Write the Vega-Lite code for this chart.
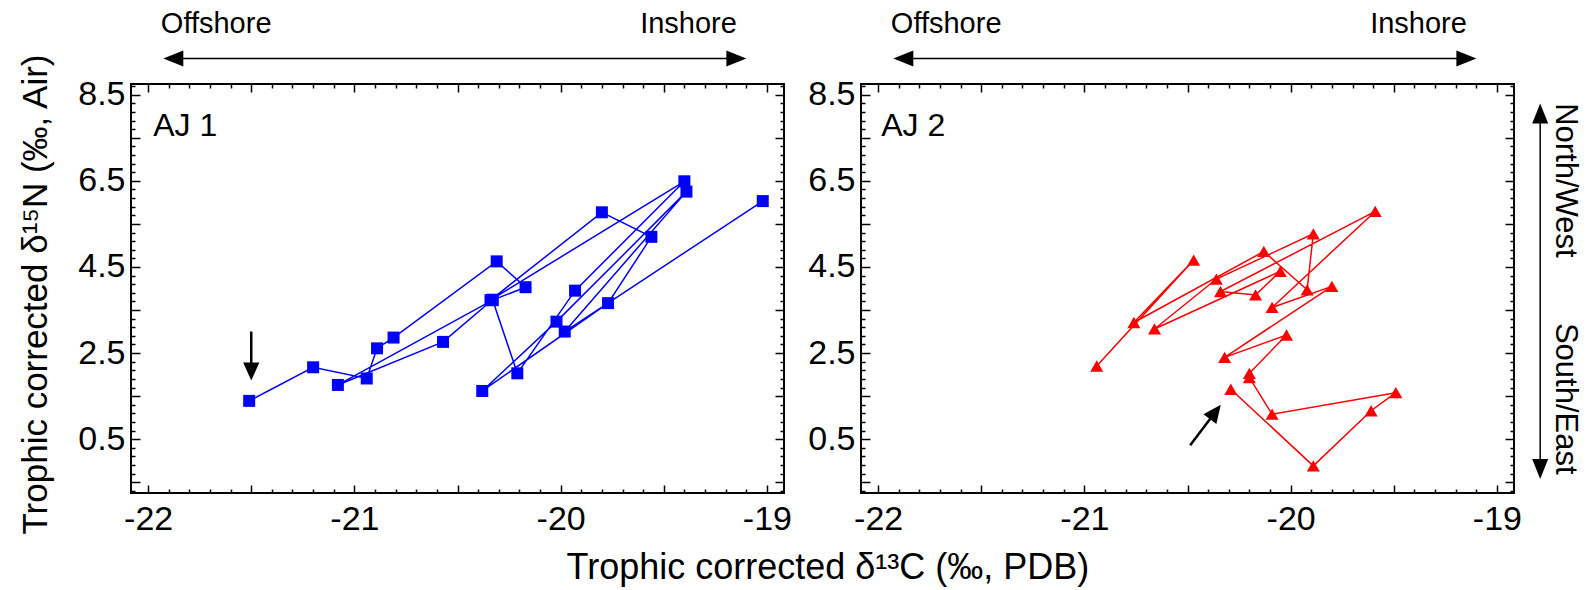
{
  "$schema": "https://vega.github.io/schema/vega-lite/v6.json",
  "background": "white",
  "padding": {"left": 17, "top": 9, "right": 6, "bottom": 5},
  "config": {
    "font": "Liberation Sans",
    "view": {"stroke": "black", "strokeWidth": 2},
    "axis": {
      "labelFont": "Liberation Sans", "labelFontSize": 34, "labelColor": "black",
      "tickColor": "black", "tickWidth": 1.5, "domain": false, "grid": false,
      "labelOverlap": false, "labelFlush": false, "title": null
    }
  },
  "datasets": {
    "aj1": [
      {"seq": 1, "x": -21.51, "y": 1.39}, {"seq": 2, "x": -21.20, "y": 2.17}, {"seq": 3, "x": -20.94, "y": 1.91},
      {"seq": 4, "x": -20.89, "y": 2.61}, {"seq": 5, "x": -20.81, "y": 2.86}, {"seq": 6, "x": -20.31, "y": 4.63},
      {"seq": 7, "x": -20.17, "y": 4.03}, {"seq": 8, "x": -20.33, "y": 3.73}, {"seq": 9, "x": -21.08, "y": 1.76},
      {"seq": 10, "x": -20.57, "y": 2.76}, {"seq": 11, "x": -20.33, "y": 3.74}, {"seq": 12, "x": -20.21, "y": 2.03},
      {"seq": 13, "x": -19.93, "y": 3.95}, {"seq": 14, "x": -19.40, "y": 6.49}, {"seq": 15, "x": -20.34, "y": 3.73},
      {"seq": 16, "x": -19.80, "y": 5.77}, {"seq": 17, "x": -19.56, "y": 5.20}, {"seq": 18, "x": -19.77, "y": 3.66},
      {"seq": 19, "x": -20.38, "y": 1.62}, {"seq": 20, "x": -20.02, "y": 3.23}, {"seq": 21, "x": -19.39, "y": 6.25},
      {"seq": 22, "x": -19.98, "y": 3.00}, {"seq": 23, "x": -19.02, "y": 6.03}
    ],
    "aj2": [
      {"seq": 1, "x": -20.29, "y": 1.66}, {"seq": 2, "x": -19.89, "y": -0.12}, {"seq": 3, "x": -19.61, "y": 1.16},
      {"seq": 4, "x": -19.49, "y": 1.58}, {"seq": 5, "x": -20.09, "y": 1.08}, {"seq": 6, "x": -20.20, "y": 1.93},
      {"seq": 7, "x": -20.20, "y": 2.03}, {"seq": 8, "x": -20.02, "y": 2.92}, {"seq": 9, "x": -20.32, "y": 2.40},
      {"seq": 10, "x": -19.80, "y": 4.05}, {"seq": 11, "x": -20.09, "y": 3.56}, {"seq": 12, "x": -19.59, "y": 5.79},
      {"seq": 13, "x": -20.34, "y": 3.93}, {"seq": 14, "x": -20.17, "y": 3.85}, {"seq": 15, "x": -20.05, "y": 4.40},
      {"seq": 16, "x": -20.66, "y": 3.06}, {"seq": 17, "x": -20.36, "y": 4.22}, {"seq": 18, "x": -19.89, "y": 5.27},
      {"seq": 19, "x": -19.92, "y": 3.97}, {"seq": 20, "x": -20.13, "y": 4.86}, {"seq": 21, "x": -20.76, "y": 3.21},
      {"seq": 22, "x": -20.47, "y": 4.66}, {"seq": 23, "x": -20.94, "y": 2.20}
    ]
  },
  "bounds": "flush",
  "spacing": 77,
  "hconcat": [
    {
      "width": 653, "height": 409,
      "data": {"values": [{}]},
      "resolve": {"axis": {"x": "independent", "y": "independent"}},
      "layer": [
        {
          "data": {"name": "aj1"},
          "mark": {"type": "line", "color": "#0000ff", "strokeWidth": 1.5},
          "encoding": {
            "x": {"field": "x", "type": "quantitative", "scale": {"domain": [-22.083, -18.917], "nice": false, "zero": false},
              "axis": {"orient": "bottom", "labelPadding": 17,
                "values": [-22,-21.9,-21.8,-21.7,-21.6,-21.5,-21.4,-21.3,-21.2,-21.1,-21,-20.9,-20.8,-20.7,-20.6,-20.5,-20.4,-20.3,-20.2,-20.1,-20,-19.9,-19.8,-19.7,-19.6,-19.5,-19.4,-19.3,-19.2,-19.1,-19],
                "labelExpr": "abs(datum.value-round(datum.value))<0.001 ? (datum.value<0?'-':'')+abs(round(datum.value)) : ''",
                "tickSize": {"condition": {"test": "abs(datum.value*2-round(datum.value*2))<0.001", "value": -8}, "value": -4}}},
            "y": {"field": "y", "type": "quantitative", "scale": {"domain": [-0.75, 8.75], "nice": false, "zero": false},
              "axis": {"orient": "left", "labelPadding": 15,
                "values": [8.7,8.5,8.3,8.1,7.9,7.7,7.5,7.3,7.1,6.9,6.7,6.5,6.3,6.1,5.9,5.7,5.5,5.3,5.1,4.9,4.7,4.5,4.3,4.1,3.9,3.7,3.5,3.3,3.1,2.9,2.7,2.5,2.3,2.1,1.9,1.7,1.5,1.3,1.1,0.9,0.7,0.5,0.3,0.1,-0.1,-0.3,-0.5,-0.7],
                "labelExpr": "abs((datum.value-0.5)/2-round((datum.value-0.5)/2))<0.001 ? format(datum.value,'.1f') : ''",
                "title": "Trophic corrected δ¹⁵N (‰, Air)", "titleFont": "Liberation Sans", "titleFontSize": 35,
                "titleFontWeight": "normal", "titleColor": "black", "titlePadding": 24, "titleY": 210,
                "tickSize": {"condition": {"test": "abs((datum.value-0.5)-round(datum.value-0.5))<0.001", "value": -9}, "value": -4}}},
            "order": {"field": "seq", "type": "quantitative"}
          }
        },
        {
          "data": {"name": "aj1"},
          "mark": {"type": "point", "shape": "square", "filled": true, "size": 144, "color": "#0000ff", "opacity": 1},
          "encoding": {
            "x": {"field": "x", "type": "quantitative",
              "axis": {"orient": "top", "labels": false,
                "values": [-22,-21.9,-21.8,-21.7,-21.6,-21.5,-21.4,-21.3,-21.2,-21.1,-21,-20.9,-20.8,-20.7,-20.6,-20.5,-20.4,-20.3,-20.2,-20.1,-20,-19.9,-19.8,-19.7,-19.6,-19.5,-19.4,-19.3,-19.2,-19.1,-19],
                "tickSize": {"condition": {"test": "abs(datum.value*2-round(datum.value*2))<0.001", "value": -8}, "value": -4}}},
            "y": {"field": "y", "type": "quantitative",
              "axis": {"orient": "right", "labels": false,
                "values": [8.7,8.5,8.3,8.1,7.9,7.7,7.5,7.3,7.1,6.9,6.7,6.5,6.3,6.1,5.9,5.7,5.5,5.3,5.1,4.9,4.7,4.5,4.3,4.1,3.9,3.7,3.5,3.3,3.1,2.9,2.7,2.5,2.3,2.1,1.9,1.7,1.5,1.3,1.1,0.9,0.7,0.5,0.3,0.1,-0.1,-0.3,-0.5,-0.7],
                "tickSize": {"condition": {"test": "abs((datum.value-0.5)-round(datum.value-0.5))<0.001", "value": -9}, "value": -4}}}
          }
        },
        {
          "mark": {"type": "text", "text": "AJ 1", "fontSize": 32, "align": "left", "baseline": "alphabetic", "color": "black", "clip": false},
          "encoding": {"x": {"datum": -21.975, "type": "quantitative", "axis": null}, "y": {"datum": 7.55, "type": "quantitative", "axis": null}}
        },
        {
          "mark": {"type": "rule", "color": "black", "strokeWidth": 2.5, "clip": false},
          "encoding": {"x": {"datum": -21.5, "type": "quantitative", "axis": null}, "y": {"datum": 3.0, "type": "quantitative", "axis": null}, "y2": {"datum": 2.1}}
        },
        {
          "mark": {"type": "point", "shape": "M0,1L-0.9,-1L0.9,-1Z", "filled": true, "size": 324, "color": "black", "opacity": 1, "clip": false},
          "encoding": {"x": {"datum": -21.5, "type": "quantitative", "axis": null}, "y": {"datum": 2.07, "type": "quantitative", "axis": null}}
        },
        {
          "mark": {"type": "rule", "color": "black", "strokeWidth": 1.5, "clip": false},
          "encoding": {"x": {"datum": -21.9, "type": "quantitative", "axis": null}, "x2": {"datum": -19.12}, "y": {"datum": 9.34, "type": "quantitative", "axis": null}}
        },
        {
          "mark": {"type": "point", "shape": "M-1,0L1,-0.8L1,0.8Z", "filled": true, "size": 400, "color": "black", "opacity": 1, "clip": false},
          "encoding": {"x": {"datum": -21.878, "type": "quantitative", "axis": null}, "y": {"datum": 9.34, "type": "quantitative", "axis": null}}
        },
        {
          "mark": {"type": "point", "shape": "M1,0L-1,-0.8L-1,0.8Z", "filled": true, "size": 400, "color": "black", "opacity": 1, "clip": false},
          "encoding": {"x": {"datum": -19.148, "type": "quantitative", "axis": null}, "y": {"datum": 9.34, "type": "quantitative", "axis": null}}
        },
        {
          "mark": {"type": "text", "text": "Offshore", "fontSize": 29, "align": "center", "baseline": "alphabetic", "color": "black", "clip": false},
          "encoding": {"x": {"datum": -21.67, "type": "quantitative", "axis": null}, "y": {"datum": 9.925, "type": "quantitative", "axis": null}}
        },
        {
          "mark": {"type": "text", "text": "Inshore", "fontSize": 29, "align": "center", "baseline": "alphabetic", "color": "black", "clip": false},
          "encoding": {"x": {"datum": -19.38, "type": "quantitative", "axis": null}, "y": {"datum": 9.925, "type": "quantitative", "axis": null}}
        },
        {
          "mark": {"type": "text", "text": "Trophic corrected δ¹³C (‰, PDB)", "fontSize": 36, "align": "center", "baseline": "middle", "color": "black", "clip": false},
          "encoding": {"x": {"datum": -18.704, "type": "quantitative", "axis": null}, "y": {"datum": -2.49, "type": "quantitative", "axis": null}}
        }
      ]
    },
    {
      "width": 653, "height": 409,
      "data": {"values": [{}]},
      "resolve": {"axis": {"x": "independent", "y": "independent"}},
      "layer": [
        {
          "data": {"name": "aj2"},
          "mark": {"type": "line", "color": "#ff0000", "strokeWidth": 1.5},
          "encoding": {
            "x": {"field": "x", "type": "quantitative", "scale": {"domain": [-22.083, -18.917], "nice": false, "zero": false},
              "axis": {"orient": "bottom", "labelPadding": 17,
                "values": [-22,-21.9,-21.8,-21.7,-21.6,-21.5,-21.4,-21.3,-21.2,-21.1,-21,-20.9,-20.8,-20.7,-20.6,-20.5,-20.4,-20.3,-20.2,-20.1,-20,-19.9,-19.8,-19.7,-19.6,-19.5,-19.4,-19.3,-19.2,-19.1,-19],
                "labelExpr": "abs(datum.value-round(datum.value))<0.001 ? (datum.value<0?'-':'')+abs(round(datum.value)) : ''",
                "tickSize": {"condition": {"test": "abs(datum.value*2-round(datum.value*2))<0.001", "value": -8}, "value": -4}}},
            "y": {"field": "y", "type": "quantitative", "scale": {"domain": [-0.75, 8.75], "nice": false, "zero": false},
              "axis": {"orient": "left", "labelPadding": 15,
                "values": [8.7,8.5,8.3,8.1,7.9,7.7,7.5,7.3,7.1,6.9,6.7,6.5,6.3,6.1,5.9,5.7,5.5,5.3,5.1,4.9,4.7,4.5,4.3,4.1,3.9,3.7,3.5,3.3,3.1,2.9,2.7,2.5,2.3,2.1,1.9,1.7,1.5,1.3,1.1,0.9,0.7,0.5,0.3,0.1,-0.1,-0.3,-0.5,-0.7],
                "labelExpr": "abs((datum.value-0.5)/2-round((datum.value-0.5)/2))<0.001 ? format(datum.value,'.1f') : ''",
                "tickSize": {"condition": {"test": "abs((datum.value-0.5)-round(datum.value-0.5))<0.001", "value": -9}, "value": -4}}},
            "order": {"field": "seq", "type": "quantitative"}
          }
        },
        {
          "data": {"name": "aj2"},
          "mark": {"type": "point", "shape": "triangle-up", "filled": true, "size": 170, "color": "#ff0000", "opacity": 1},
          "encoding": {
            "x": {"field": "x", "type": "quantitative",
              "axis": {"orient": "top", "labels": false,
                "values": [-22,-21.9,-21.8,-21.7,-21.6,-21.5,-21.4,-21.3,-21.2,-21.1,-21,-20.9,-20.8,-20.7,-20.6,-20.5,-20.4,-20.3,-20.2,-20.1,-20,-19.9,-19.8,-19.7,-19.6,-19.5,-19.4,-19.3,-19.2,-19.1,-19],
                "tickSize": {"condition": {"test": "abs(datum.value*2-round(datum.value*2))<0.001", "value": -8}, "value": -4}}},
            "y": {"field": "y", "type": "quantitative",
              "axis": {"orient": "right", "labels": false,
                "values": [8.7,8.5,8.3,8.1,7.9,7.7,7.5,7.3,7.1,6.9,6.7,6.5,6.3,6.1,5.9,5.7,5.5,5.3,5.1,4.9,4.7,4.5,4.3,4.1,3.9,3.7,3.5,3.3,3.1,2.9,2.7,2.5,2.3,2.1,1.9,1.7,1.5,1.3,1.1,0.9,0.7,0.5,0.3,0.1,-0.1,-0.3,-0.5,-0.7],
                "tickSize": {"condition": {"test": "abs((datum.value-0.5)-round(datum.value-0.5))<0.001", "value": -9}, "value": -4}}}
          }
        },
        {
          "mark": {"type": "text", "text": "AJ 2", "fontSize": 32, "align": "left", "baseline": "alphabetic", "color": "black", "clip": false},
          "encoding": {"x": {"datum": -21.985, "type": "quantitative", "axis": null}, "y": {"datum": 7.55, "type": "quantitative", "axis": null}}
        },
        {
          "mark": {"type": "rule", "color": "black", "strokeWidth": 2.5, "clip": false},
          "encoding": {"x": {"datum": -20.487, "type": "quantitative", "axis": null}, "y": {"datum": 0.36, "type": "quantitative", "axis": null}, "x2": {"datum": -20.365}, "y2": {"datum": 1.133}}
        },
        {
          "mark": {"type": "point", "shape": "M0,-1L-0.9,1L0.9,1Z", "filled": true, "size": 324, "color": "black", "opacity": 1, "angle": 37, "clip": false},
          "encoding": {"x": {"datum": -20.365, "type": "quantitative", "axis": null}, "y": {"datum": 1.133, "type": "quantitative", "axis": null}}
        },
        {
          "mark": {"type": "rule", "color": "black", "strokeWidth": 1.5, "clip": false},
          "encoding": {"x": {"datum": -21.9, "type": "quantitative", "axis": null}, "x2": {"datum": -19.12}, "y": {"datum": 9.34, "type": "quantitative", "axis": null}}
        },
        {
          "mark": {"type": "point", "shape": "M-1,0L1,-0.8L1,0.8Z", "filled": true, "size": 400, "color": "black", "opacity": 1, "clip": false},
          "encoding": {"x": {"datum": -21.878, "type": "quantitative", "axis": null}, "y": {"datum": 9.34, "type": "quantitative", "axis": null}}
        },
        {
          "mark": {"type": "point", "shape": "M1,0L-1,-0.8L-1,0.8Z", "filled": true, "size": 400, "color": "black", "opacity": 1, "clip": false},
          "encoding": {"x": {"datum": -19.148, "type": "quantitative", "axis": null}, "y": {"datum": 9.34, "type": "quantitative", "axis": null}}
        },
        {
          "mark": {"type": "text", "text": "Offshore", "fontSize": 29, "align": "center", "baseline": "alphabetic", "color": "black", "clip": false},
          "encoding": {"x": {"datum": -21.67, "type": "quantitative", "axis": null}, "y": {"datum": 9.925, "type": "quantitative", "axis": null}}
        },
        {
          "mark": {"type": "text", "text": "Inshore", "fontSize": 29, "align": "center", "baseline": "alphabetic", "color": "black", "clip": false},
          "encoding": {"x": {"datum": -19.38, "type": "quantitative", "axis": null}, "y": {"datum": 9.925, "type": "quantitative", "axis": null}}
        },
        {
          "mark": {"type": "rule", "color": "black", "strokeWidth": 1.5, "clip": false},
          "encoding": {"x": {"datum": -18.79, "type": "quantitative", "axis": null}, "y": {"datum": 8.2, "type": "quantitative", "axis": null}, "y2": {"datum": -0.35}}
        },
        {
          "mark": {"type": "point", "shape": "M0,-1L-0.8,1L0.8,1Z", "filled": true, "size": 400, "color": "black", "opacity": 1, "clip": false},
          "encoding": {"x": {"datum": -18.79, "type": "quantitative", "axis": null}, "y": {"datum": 8.065, "type": "quantitative", "axis": null}}
        },
        {
          "mark": {"type": "point", "shape": "M0,1L-0.8,-1L0.8,-1Z", "filled": true, "size": 400, "color": "black", "opacity": 1, "clip": false},
          "encoding": {"x": {"datum": -18.79, "type": "quantitative", "axis": null}, "y": {"datum": -0.19, "type": "quantitative", "axis": null}}
        },
        {
          "mark": {"type": "text", "text": "North/West", "fontSize": 31, "angle": 90, "align": "center", "baseline": "middle", "color": "black", "clip": false},
          "encoding": {"x": {"datum": -18.67, "type": "quantitative", "axis": null}, "y": {"datum": 6.51, "type": "quantitative", "axis": null}}
        },
        {
          "mark": {"type": "text", "text": "South/East", "fontSize": 31, "angle": 90, "align": "center", "baseline": "middle", "color": "black", "clip": false},
          "encoding": {"x": {"datum": -18.67, "type": "quantitative", "axis": null}, "y": {"datum": 1.44, "type": "quantitative", "axis": null}}
        }
      ]
    }
  ]
}
